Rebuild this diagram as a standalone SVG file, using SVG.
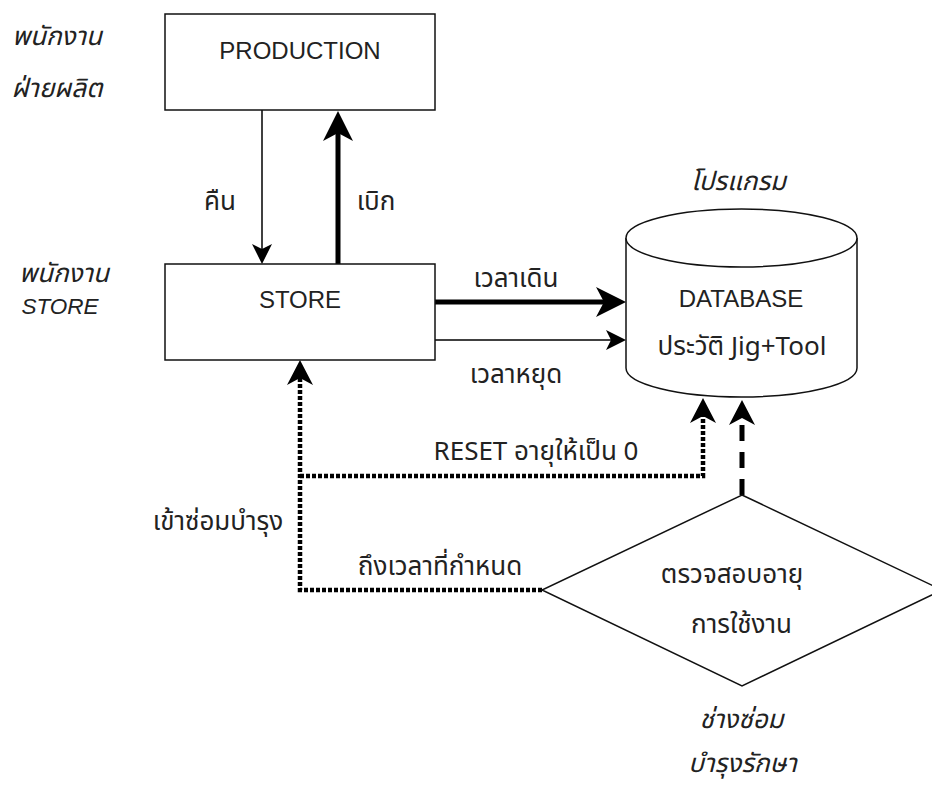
<svg xmlns="http://www.w3.org/2000/svg" width="932" height="785" viewBox="0 0 932 785">
  <style>
    .box { fill: #fff; stroke: #111; stroke-width: 1.5; }
    .lat { font-family: "Liberation Sans", Arial, sans-serif; font-size: 24px; fill: #222; text-anchor: middle; }
    .th { font-family: "Noto Sans Thai", "Loma", "Garuda", "Norasi", "DejaVu Sans", sans-serif; font-size: 26px; fill: #222; text-anchor: middle; }
    .it { font-style: italic; }
    .thin { stroke: #000; stroke-width: 1.5; fill: none; }
    .thick { stroke: #000; stroke-width: 5; fill: none; }
    .dot { stroke: #000; stroke-width: 4.5; fill: none; stroke-dasharray: 4 2; }
    .dash { stroke: #000; stroke-width: 5; fill: none; stroke-dasharray: 16 11; }
  </style>
  <defs>
    <marker id="arrowThin" viewBox="0 -10 20 20" markerUnits="userSpaceOnUse" markerWidth="20" markerHeight="20" refX="7" refY="0" orient="auto">
      <path d="M0,-10 L20,0 L0,10 L5,0 Z" fill="#000"/>
    </marker>
    <marker id="arrowThick" viewBox="0 -15 30 30" markerUnits="userSpaceOnUse" markerWidth="30" markerHeight="30" refX="10" refY="0" orient="auto">
      <path d="M0,-15 L30,0 L0,15 L8,0 Z" fill="#000"/>
    </marker>
    <marker id="arrowMid" viewBox="0 -13 25 26" markerUnits="userSpaceOnUse" markerWidth="25" markerHeight="26" refX="9" refY="0" orient="auto">
      <path d="M0,-13 L25,0 L0,13 L7,0 Z" fill="#000"/>
    </marker>
  </defs>
  <rect width="932" height="785" fill="#fff"/>

  <!-- connectors -->
  <g id="connectors">
    <line class="thin" x1="262" y1="110" x2="262" y2="251" marker-end="url(#arrowThin)"/>
    <line class="thick" x1="338" y1="264" x2="338" y2="131" marker-end="url(#arrowThick)"/>
    <line class="thick" x1="435" y1="302" x2="606" y2="302" marker-end="url(#arrowThick)"/>
    <line class="thin" x1="435" y1="340" x2="613" y2="340" marker-end="url(#arrowThin)"/>
    <path class="dot" d="M542,590 L300,590 L300,376" marker-end="url(#arrowMid)"/>
    <path class="dot" d="M300,476 L703,476 L703,414" marker-end="url(#arrowMid)"/>
    <line class="dash" x1="742" y1="495" x2="742" y2="416" marker-end="url(#arrowMid)"/>
    <text class="th" x="220" y="210">คืน</text>
    <text class="th" x="376" y="210">เบิก</text>
    <text class="th" x="516" y="287">เวลาเดิน</text>
    <text class="th" x="516" y="383">เวลาหยุด</text>
    <text class="th" x="536" y="460">RESET อายุให้เป็น 0</text>
    <text class="th" x="218" y="530">เข้าซ่อมบำรุง</text>
    <text class="th" x="440" y="575">ถึงเวลาที่กำหนด</text>
  </g>

  <!-- production -->
  <g id="production">
    <rect class="box" x="165" y="14" width="270" height="96"/>
    <text class="lat" x="300" y="59">PRODUCTION</text>
  </g>

  <!-- store -->
  <g id="store">
    <rect class="box" x="165" y="264" width="270" height="96"/>
    <text class="lat" x="300" y="308">STORE</text>
  </g>

  <!-- database cylinder -->
  <g id="database">
    <path class="box" d="M626,238 L626,368 A115.5,29 0 0 0 857,368 L857,238"/>
    <ellipse class="box" cx="741.5" cy="238" rx="115.5" ry="29"/>
    <text class="lat" x="741" y="307">DATABASE</text>
    <text class="th" x="742" y="355">ประวัติ Jig+Tool</text>
  </g>

  <!-- usage check decision -->
  <g id="check">
    <polygon class="box" points="742,495 942,590 742,686 542,590"/>
    <text class="th" x="732" y="583">ตรวจสอบอายุ</text>
    <text class="th" x="741.5" y="633">การใช้งาน</text>
  </g>

  <!-- role labels -->
  <g id="roles">
    <text class="th it" x="57" y="45">พนักงาน</text>
    <text class="th it" x="57" y="97">ฝ่ายผลิต</text>
    <text class="th it" x="64" y="282">พนักงาน</text>
    <text class="lat it" x="60" y="314" style="font-size:22.5px">STORE</text>
    <text class="th it" x="738.5" y="190">โปรแกรม</text>
    <text class="th it" x="741.5" y="728">ช่างซ่อม</text>
    <text class="th it" x="742.5" y="772">บำรุงรักษา</text>
  </g>
</svg>
